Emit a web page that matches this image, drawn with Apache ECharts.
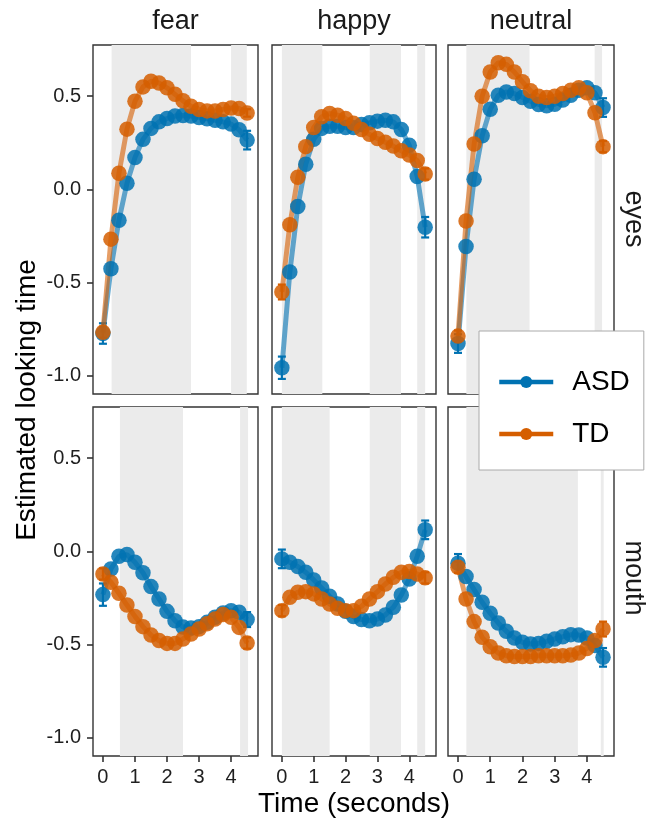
<!DOCTYPE html>
<html>
  <head>
    <meta charset="utf-8" />
    <title>Estimated looking time</title>
    <script src="https://cdn.jsdelivr.net/npm/echarts@6.0.0/dist/echarts.min.js"></script>
    <style>
      html, body { margin: 0; padding: 0; background: #fff; }
    </style>
  </head>
  <body>
    <div id="chartContainer" style="width: 647px;height:821px;"></div>
    <script>
        // time bins (seconds)
        var times = [0, 0.25, 0.5, 0.75, 1, 1.25, 1.5, 1.75, 2, 2.25, 2.5, 2.75, 3, 3.25, 3.5, 3.75, 4, 4.25, 4.5];
        var emotions = ['fear', 'happy', 'neutral'];
        var regions = ['eyes', 'mouth'];

        // estimated looking time, eyes
        var asdFearEyes = [-0.775, -0.427, -0.166, 0.032, 0.171, 0.268, 0.327, 0.362, 0.38, 0.393, 0.396, 0.393, 0.386, 0.379, 0.371, 0.362, 0.35, 0.32, 0.264];
        var tdFearEyes = [-0.768, -0.268, 0.086, 0.323, 0.473, 0.55, 0.58, 0.571, 0.545, 0.51, 0.475, 0.446, 0.429, 0.421, 0.42, 0.429, 0.437, 0.434, 0.41];
        var asdHappyEyes = [-0.959, -0.445, -0.093, 0.134, 0.268, 0.327, 0.339, 0.339, 0.332, 0.332, 0.348, 0.357, 0.366, 0.371, 0.362, 0.321, 0.237, 0.068, -0.204];
        var tdHappyEyes = [-0.552, -0.191, 0.064, 0.229, 0.332, 0.389, 0.407, 0.398, 0.38, 0.354, 0.321, 0.295, 0.273, 0.252, 0.232, 0.207, 0.184, 0.154, 0.082];
        var asdNeutralEyes = [-0.829, -0.307, 0.054, 0.288, 0.43, 0.505, 0.523, 0.514, 0.493, 0.473, 0.455, 0.448, 0.457, 0.479, 0.505, 0.532, 0.545, 0.518, 0.439];
        var tdNeutralEyes = [-0.789, -0.17, 0.243, 0.5, 0.63, 0.68, 0.671, 0.63, 0.577, 0.529, 0.5, 0.493, 0.5, 0.514, 0.532, 0.545, 0.518, 0.411, 0.229];

        // estimated looking time, mouth
        var asdFearMouth = [-0.233, -0.095, -0.027, -0.018, -0.059, -0.116, -0.19, -0.256, -0.323, -0.373, -0.407, -0.412, -0.405, -0.382, -0.355, -0.332, -0.319, -0.328, -0.367];
        var tdFearMouth = [-0.122, -0.167, -0.226, -0.289, -0.35, -0.405, -0.45, -0.48, -0.495, -0.495, -0.471, -0.444, -0.418, -0.39, -0.364, -0.34, -0.355, -0.409, -0.493];
        var asdHappyMouth = [-0.041, -0.059, -0.082, -0.113, -0.154, -0.197, -0.242, -0.283, -0.323, -0.351, -0.367, -0.373, -0.364, -0.342, -0.301, -0.235, -0.149, -0.027, 0.115];
        var tdHappyMouth = [-0.319, -0.247, -0.22, -0.217, -0.229, -0.256, -0.283, -0.306, -0.319, -0.319, -0.296, -0.256, -0.217, -0.176, -0.14, -0.113, -0.109, -0.122, -0.143];
        var asdNeutralMouth = [-0.065, -0.136, -0.206, -0.274, -0.333, -0.385, -0.43, -0.466, -0.489, -0.498, -0.495, -0.484, -0.471, -0.459, -0.448, -0.45, -0.466, -0.507, -0.57];
        var tdNeutralMouth = [-0.086, -0.256, -0.378, -0.462, -0.513, -0.547, -0.561, -0.565, -0.565, -0.565, -0.561, -0.561, -0.561, -0.561, -0.557, -0.547, -0.522, -0.48, -0.418];

        // standard errors at first / last time bin, panel order: fear, happy, neutral eyes, then mouth
        var asdErrFirst = [0.055, 0.06, 0.05, 0.06, 0.05, 0.05];
        var asdErrLast = [0.05, 0.055, 0.05, 0.04, 0.05, 0.05];
        var tdErrFirst = [0.03, 0.04, 0.03, 0.03, 0.03, 0.03];
        var tdErrLast = [0.02, 0.03, 0.03, 0.03, 0.03, 0.04];

        // shaded time windows
        var shadeFearEyes = [[0.27, 2.75], [4.0, 4.49]];
        var shadeHappyEyes = [[0, 1.27], [2.76, 3.74], [4.25, 4.5]];
        var shadeNeutralEyes = [[0.26, 2.22], [4.24, 4.47]];
        var shadeFearMouth = [[0.53, 2.5], [4.28, 4.53]];
        var shadeHappyMouth = [[0, 1.5], [2.76, 3.74], [4.25, 4.5]];
        var shadeNeutralMouth = [[0.26, 3.72], [4.43, 4.52]];

        var xTicks = [0, 1, 2, 3, 4];
        var yTicks = [-1.0, -0.5, 0.0, 0.5];

        var asdData = [asdFearEyes, asdHappyEyes, asdNeutralEyes, asdFearMouth, asdHappyMouth, asdNeutralMouth];
        var tdData = [tdFearEyes, tdHappyEyes, tdNeutralEyes, tdFearMouth, tdHappyMouth, tdNeutralMouth];
        var shades = [shadeFearEyes, shadeHappyEyes, shadeNeutralEyes, shadeFearMouth, shadeHappyMouth, shadeNeutralMouth];

        var asdColor = '#0072B2';
        var tdColor = '#D55E00';
        var font = 'Liberation Sans, Arial, sans-serif';

        var colLeft = [93, 272, 448];
        var colWidth = [165, 164, 166];
        var rowTop = [45, 407];
        var rowHeight = 349;

        var chartContainer = document.getElementById('chartContainer');
        var myChart = echarts.init(chartContainer);

        var grids = [], xAxes = [], yAxes = [], series = [];

        function pairs(vals) {
          return times.map(function (t, i) { return [t, vals[i]]; });
        }

        function errBars(vals, e0, e1) {
          var n = vals.length - 1;
          return [[times[0], vals[0] - e0, vals[0] + e0], [times[n], vals[n] - e1, vals[n] + e1]];
        }

        function renderShade(params, api) {
          var cs = params.coordSys;
          var p0 = api.coord([api.value(0), 0]);
          var p1 = api.coord([api.value(1), 0]);
          return {
            type: 'rect',
            shape: { x: p0[0], y: cs.y, width: p1[0] - p0[0], height: cs.height },
            style: { fill: '#ebebeb' }
          };
        }

        function makeErrRender(color) {
          return function (params, api) {
            var lo = api.coord([api.value(0), api.value(1)]);
            var hi = api.coord([api.value(0), api.value(2)]);
            var w = 4;
            var st = { stroke: color, lineWidth: 2.2 };
            return {
              type: 'group',
              children: [
                { type: 'line', shape: { x1: lo[0], y1: lo[1], x2: hi[0], y2: hi[1] }, style: st },
                { type: 'line', shape: { x1: lo[0] - w, y1: lo[1], x2: lo[0] + w, y2: lo[1] }, style: st },
                { type: 'line', shape: { x1: hi[0] - w, y1: hi[1], x2: hi[0] + w, y2: hi[1] }, style: st }
              ]
            };
          };
        }

        for (var r = 0; r < 2; r++) {
          for (var c = 0; c < 3; c++) {
            var k = r * 3 + c;
            grids.push({
              left: colLeft[c], top: rowTop[r], width: colWidth[c], height: rowHeight,
              show: true, borderColor: '#333', borderWidth: 1.4, backgroundColor: '#fff'
            });
            xAxes.push({
              type: 'value', gridIndex: k, min: -0.31, max: 4.84, position: 'bottom',
              splitLine: { show: false },
              axisLine: { show: false, onZero: false },
              axisTick: { show: r === 1, customValues: xTicks, length: 6, lineStyle: { color: '#333', width: 1.6 } },
              axisLabel: { show: r === 1, customValues: xTicks, margin: 11, color: '#1f1f1f', fontSize: 20, fontFamily: font }
            });
            yAxes.push({
              type: 'value', gridIndex: k, min: -1.1, max: 0.775, position: 'left',
              splitLine: { show: false },
              axisLine: { show: false, onZero: false },
              axisTick: { show: c === 0, customValues: yTicks, length: 6, lineStyle: { color: '#333', width: 1.6 } },
              axisLabel: {
                show: c === 0, customValues: yTicks, margin: 12, color: '#1f1f1f', fontSize: 20, fontFamily: font,
                formatter: function (v) { return v.toFixed(1); }
              }
            });
            series.push({
              type: 'custom', xAxisIndex: k, yAxisIndex: k, z: 1, silent: true,
              renderItem: renderShade, encode: { x: [0, 1] },
              data: shades[k]
            });
            series.push({
              type: 'custom', xAxisIndex: k, yAxisIndex: k, z: 2, silent: true,
              renderItem: makeErrRender(asdColor), encode: { x: 0, y: [1, 2] },
              data: errBars(asdData[k], asdErrFirst[k], asdErrLast[k])
            });
            series.push({
              type: 'custom', xAxisIndex: k, yAxisIndex: k, z: 2, silent: true,
              renderItem: makeErrRender(tdColor), encode: { x: 0, y: [1, 2] },
              data: errBars(tdData[k], tdErrFirst[k], tdErrLast[k])
            });
            series.push({
              name: 'ASD', type: 'line', xAxisIndex: k, yAxisIndex: k, z: 3,
              data: pairs(asdData[k]),
              symbol: 'circle', symbolSize: 15.5, showSymbol: true,
              lineStyle: { color: asdColor, width: 5, opacity: 0.6 },
              itemStyle: { color: asdColor, opacity: 0.85 },
              emphasis: { disabled: true }
            });
            series.push({
              name: 'TD', type: 'line', xAxisIndex: k, yAxisIndex: k, z: 3,
              data: pairs(tdData[k]),
              symbol: 'circle', symbolSize: 15.5, showSymbol: true,
              lineStyle: { color: tdColor, width: 5, opacity: 0.6 },
              itemStyle: { color: tdColor, opacity: 0.85 },
              emphasis: { disabled: true }
            });
          }
        }

        var graphics = [];
        for (var c2 = 0; c2 < 3; c2++) {
          graphics.push({
            type: 'text', x: colLeft[c2] + colWidth[c2] / 2, y: 22,
            style: { text: emotions[c2], font: '27px ' + font, fill: '#1a1a1a', align: 'center', verticalAlign: 'middle' }
          });
        }
        var rowMid = [219, 578];
        for (var r2 = 0; r2 < 2; r2++) {
          graphics.push({
            type: 'text', x: 633, y: rowMid[r2], rotation: -Math.PI / 2,
            style: { text: regions[r2], font: '27px ' + font, fill: '#1a1a1a', align: 'center', verticalAlign: 'middle' }
          });
        }
        graphics.push({
          type: 'text', x: 27, y: 400, rotation: Math.PI / 2,
          style: { text: 'Estimated looking time', font: '28px ' + font, fill: '#000', align: 'center', verticalAlign: 'middle' }
        });
        graphics.push({
          type: 'text', x: 354, y: 804,
          style: { text: 'Time (seconds)', font: '28px ' + font, fill: '#000', align: 'center', verticalAlign: 'middle' }
        });

        var option = {
          animation: false,
          backgroundColor: '#fff',
          grid: grids,
          xAxis: xAxes,
          yAxis: yAxes,
          legend: {
            data: ['ASD', 'TD'],
            orient: 'vertical',
            left: 479, top: 331,
            padding: [37, 14, 22, 18],
            itemGap: 24,
            itemWidth: 54,
            itemHeight: 15,
            backgroundColor: '#fff',
            borderColor: '#aaa',
            borderWidth: 1,
            lineStyle: { width: 4.5, opacity: 1 },
            itemStyle: { opacity: 1 },
            textStyle: { fontSize: 28, fontFamily: font, color: '#000', padding: [0, 0, 0, 14], lineHeight: 26 },
            selectedMode: false,
            z: 10
          },
          graphic: graphics,
          series: series
        };

        myChart.setOption(option);
    </script>
  </body>
</html>
